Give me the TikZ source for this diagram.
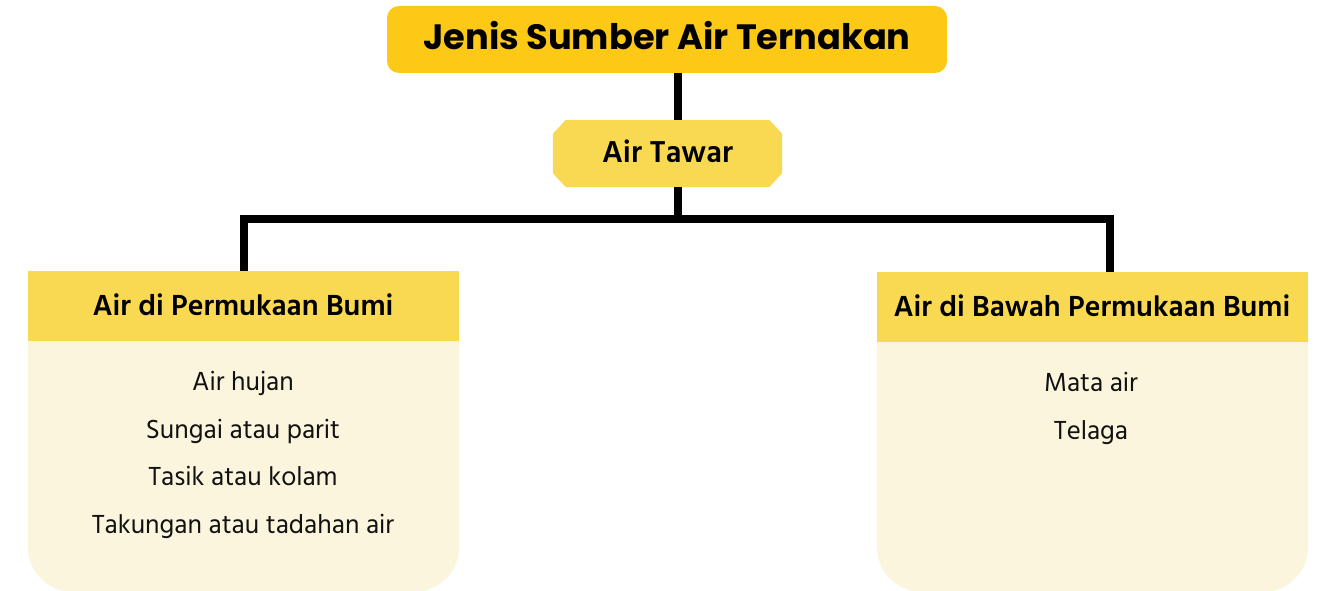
\documentclass[tikz,border=0pt]{standalone}
\usepackage{fontspec}
\setmainfont{Liberation Sans}
\newfontfamily\titlefont{Poppins}
\newfontfamily\hind{Hind Madurai}
\definecolor{titleyellow}{HTML}{FCC916}
\definecolor{headyellow}{HTML}{F9D952}
\definecolor{bodycream}{HTML}{FAF5DC}
\definecolor{ink}{HTML}{111111}
\tikzset{
  titlebox/.style={fill=titleyellow, rounded corners=12pt, minimum width=560pt,
    minimum height=67pt, inner sep=0pt},
  titletext/.style={anchor=base, inner sep=0pt, font=\titlefont\bfseries\fontsize{35.2}{38}\selectfont},
  tawarbox/.style={minimum width=229pt, minimum height=67pt, inner sep=0pt},
  tawartext/.style={anchor=base, inner sep=0pt, font=\hind\bfseries\fontsize{31}{34}\selectfont},
  headbox/.style={fill=headyellow, minimum width=431pt, minimum height=70pt, inner sep=0pt},
  headtext/.style={anchor=base, inner sep=0pt, font=\hind\bfseries\fontsize{29.8}{33}\selectfont},
  item/.style={anchor=base, inner sep=0pt, text=ink, font=\hind\fontsize{26.8}{30}\selectfont},
  link/.style={line width=8pt, draw=black}
}
\begin{document}
\begin{tikzpicture}[x=1pt, y=-1pt]
\useasboundingbox (0,0) rectangle (1326,591);

% title
\node[titlebox] (title) at (667,39.5) {};
\node[titletext] (titlelabel) at (667,50) {Jenis Sumber Air Ternakan};

% chamfered "Air Tawar" node
\node[tawarbox] (tawar) at (667.5,153.5) {};
\fill[headyellow] ([xshift=13pt]tawar.north west) -- ([xshift=-13pt]tawar.north east)
  -- ([yshift=-14pt]tawar.north east) -- ([yshift=14pt]tawar.south east)
  -- ([xshift=-13pt]tawar.south east) -- ([xshift=13pt]tawar.south west)
  -- ([yshift=14pt]tawar.south west) -- ([yshift=-14pt]tawar.north west) -- cycle;
\node[tawartext] (tawarlabel) at (667.5,162.3) {Air Tawar};

% category headers
\node[headbox] (surf) at (243.5,306) {};
\node[headtext] (surflabel) at (243,315) {Air di Permukaan Bumi};
\node[headbox] (under) at (1092.5,307) {};
\node[headtext] (underlabel) at (1092,316) {Air di Bawah Permukaan Bumi};

% cream bodies with rounded bottom corners
\fill[bodycream] (surf.south west) [rounded corners=45pt] -- (28,592) -- (459,592)
  [sharp corners] -- (surf.south east) -- cycle;
\fill[bodycream] (under.south west) [rounded corners=45pt] -- (877,592) -- (1308,592)
  [sharp corners] -- (under.south east) -- cycle;

% connectors
\coordinate (split) at (677.5,219);
\draw[link] (title.south -| split) -- (tawar.north -| split);
\draw[link] (tawar.south -| split) -- (split);
\draw[link] (split) -| ([xshift=0.5pt]surf.north);
\draw[link] (split) -| ([xshift=17.5pt]under.north);

% list items
\node[item] (s1) at (243,390) {Air hujan};
\node[item] (s2) at (243,438) {Sungai atau parit};
\node[item] (s3) at (243,485.5) {Tasik atau kolam};
\node[item] (s4) at (243,533) {Takungan atau tadahan air};
\node[item] (u1) at (1091,391.5) {Mata air};
\node[item] (u2) at (1091,439) {Telaga};
\end{tikzpicture}
\end{document}
